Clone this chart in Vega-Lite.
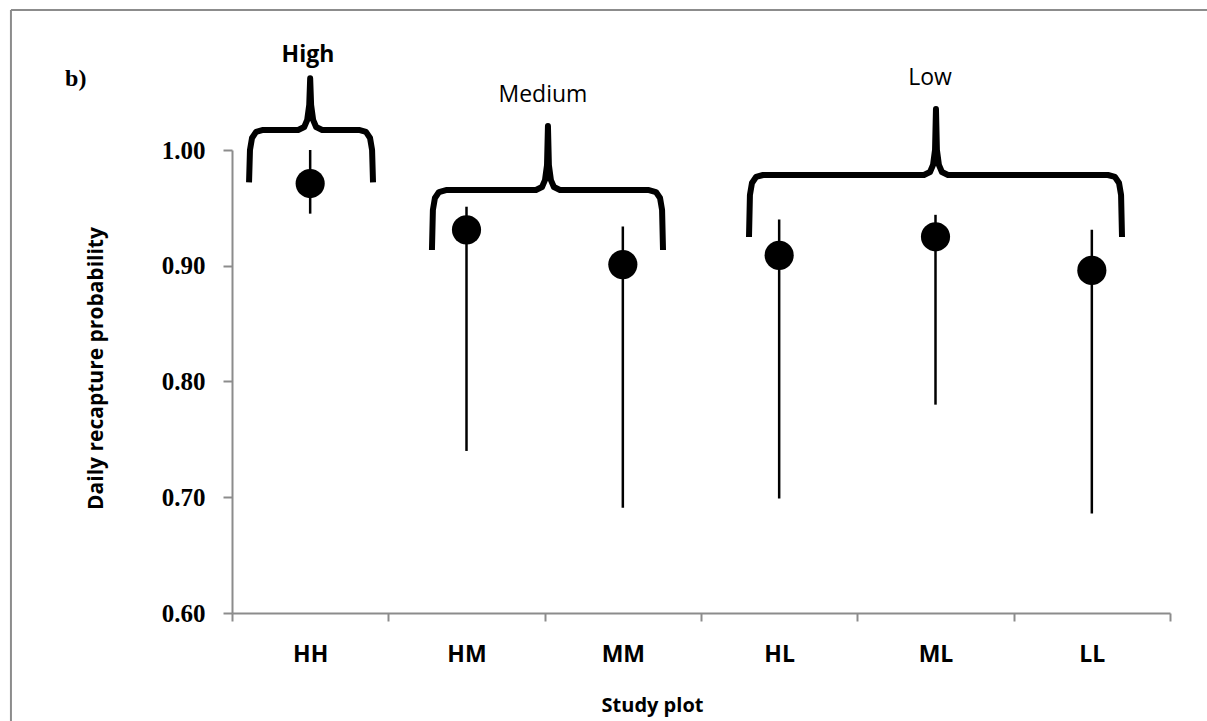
{
  "$schema": "https://vega.github.io/schema/vega-lite/v6.json",
  "width": 938,
  "height": 463,
  "autosize": "none",
  "padding": {"left": 232, "top": 150, "right": 37, "bottom": 108},
  "background": "white",
  "config": {"view": {"stroke": null}},
  "datasets": {
    "plots": [
      {"plot": "HH", "x": 1, "y": 0.971, "lo": 0.945, "hi": 1.0},
      {"plot": "HM", "x": 2, "y": 0.931, "lo": 0.740, "hi": 0.951},
      {"plot": "MM", "x": 3, "y": 0.901, "lo": 0.691, "hi": 0.934},
      {"plot": "HL", "x": 4, "y": 0.909, "lo": 0.699, "hi": 0.940},
      {"plot": "ML", "x": 5, "y": 0.925, "lo": 0.780, "hi": 0.944},
      {"plot": "LL", "x": 6, "y": 0.896, "lo": 0.686, "hi": 0.931}
    ],
    "braces": [
      {"g": "High", "i": 1, "x": 0.609, "y": 0.972},
      {"g": "High", "i": 2, "x": 0.615, "y": 1.000},
      {"g": "High", "i": 3, "x": 0.628, "y": 1.0104},
      {"g": "High", "i": 4, "x": 0.654, "y": 1.0156},
      {"g": "High", "i": 5, "x": 0.699, "y": 1.0173},
      {"g": "High", "i": 6, "x": 0.923, "y": 1.0173},
      {"g": "High", "i": 7, "x": 0.962, "y": 1.0199},
      {"g": "High", "i": 8, "x": 0.981, "y": 1.0259},
      {"g": "High", "i": 9, "x": 0.994, "y": 1.0389},
      {"g": "High", "i": 10, "x": 1.0, "y": 1.062},
      {"g": "High", "i": 11, "x": 1.006, "y": 1.0389},
      {"g": "High", "i": 12, "x": 1.019, "y": 1.0259},
      {"g": "High", "i": 13, "x": 1.038, "y": 1.0199},
      {"g": "High", "i": 14, "x": 1.077, "y": 1.0173},
      {"g": "High", "i": 15, "x": 1.312, "y": 1.0173},
      {"g": "High", "i": 16, "x": 1.357, "y": 1.0156},
      {"g": "High", "i": 17, "x": 1.383, "y": 1.0104},
      {"g": "High", "i": 18, "x": 1.396, "y": 1.000},
      {"g": "High", "i": 19, "x": 1.402, "y": 0.972},
      {"g": "Medium", "i": 1, "x": 1.779, "y": 0.9136},
      {"g": "Medium", "i": 2, "x": 1.785, "y": 0.9481},
      {"g": "Medium", "i": 3, "x": 1.798, "y": 0.9585},
      {"g": "Medium", "i": 4, "x": 1.824, "y": 0.9637},
      {"g": "Medium", "i": 5, "x": 1.869, "y": 0.9654},
      {"g": "Medium", "i": 6, "x": 2.444, "y": 0.9654},
      {"g": "Medium", "i": 7, "x": 2.483, "y": 0.9680},
      {"g": "Medium", "i": 8, "x": 2.502, "y": 0.9740},
      {"g": "Medium", "i": 9, "x": 2.515, "y": 0.9870},
      {"g": "Medium", "i": 10, "x": 2.521, "y": 1.0207},
      {"g": "Medium", "i": 11, "x": 2.527, "y": 0.9870},
      {"g": "Medium", "i": 12, "x": 2.540, "y": 0.9740},
      {"g": "Medium", "i": 13, "x": 2.559, "y": 0.9680},
      {"g": "Medium", "i": 14, "x": 2.598, "y": 0.9654},
      {"g": "Medium", "i": 15, "x": 3.167, "y": 0.9654},
      {"g": "Medium", "i": 16, "x": 3.212, "y": 0.9637},
      {"g": "Medium", "i": 17, "x": 3.238, "y": 0.9585},
      {"g": "Medium", "i": 18, "x": 3.251, "y": 0.9481},
      {"g": "Medium", "i": 19, "x": 3.257, "y": 0.9136},
      {"g": "Low", "i": 1, "x": 3.807, "y": 0.9248},
      {"g": "Low", "i": 2, "x": 3.813, "y": 0.9611},
      {"g": "Low", "i": 3, "x": 3.826, "y": 0.9715},
      {"g": "Low", "i": 4, "x": 3.852, "y": 0.9767},
      {"g": "Low", "i": 5, "x": 3.897, "y": 0.9784},
      {"g": "Low", "i": 6, "x": 4.926, "y": 0.9784},
      {"g": "Low", "i": 7, "x": 4.965, "y": 0.9810},
      {"g": "Low", "i": 8, "x": 4.984, "y": 0.9870},
      {"g": "Low", "i": 9, "x": 4.997, "y": 1.0000},
      {"g": "Low", "i": 10, "x": 5.003, "y": 1.0354},
      {"g": "Low", "i": 11, "x": 5.009, "y": 1.0000},
      {"g": "Low", "i": 12, "x": 5.022, "y": 0.9870},
      {"g": "Low", "i": 13, "x": 5.041, "y": 0.9810},
      {"g": "Low", "i": 14, "x": 5.080, "y": 0.9784},
      {"g": "Low", "i": 15, "x": 6.103, "y": 0.9784},
      {"g": "Low", "i": 16, "x": 6.148, "y": 0.9767},
      {"g": "Low", "i": 17, "x": 6.174, "y": 0.9715},
      {"g": "Low", "i": 18, "x": 6.187, "y": 0.9611},
      {"g": "Low", "i": 19, "x": 6.193, "y": 0.9248}
    ],
    "groups": [
      {"label": "Medium", "x": 2.489, "y": 1.0415},
      {"label": "Low", "x": 4.965, "y": 1.0562}
    ],
    "one": [{}]
  },
  "layer": [
    {
      "data": {"name": "one"},
      "mark": {"type": "rule", "color": "#8c8c8c", "strokeWidth": 2},
      "encoding": {
        "x": {"datum": -0.914, "type": "quantitative"},
        "y": {"datum": 1.121, "type": "quantitative"},
        "y2": {"datum": 0.45}
      }
    },
    {
      "data": {"name": "one"},
      "mark": {"type": "rule", "color": "#8c8c8c", "strokeWidth": 2},
      "encoding": {
        "y": {"datum": 1.121, "type": "quantitative"},
        "x": {"datum": -0.914, "type": "quantitative"},
        "x2": {"datum": 7.2}
      }
    },
    {
      "data": {"name": "plots"},
      "mark": {"type": "rule", "color": "black", "strokeWidth": 2.5},
      "encoding": {
        "x": {"field": "x", "type": "quantitative"},
        "y": {"field": "lo", "type": "quantitative"},
        "y2": {"field": "hi"}
      }
    },
    {
      "data": {"name": "plots"},
      "mark": {"type": "point", "shape": "circle", "filled": true, "color": "black", "opacity": 1, "size": 850},
      "encoding": {
        "x": {
          "field": "x", "type": "quantitative",
          "scale": {"domain": [0.5, 6.5], "nice": false, "zero": false},
          "axis": {
            "title": "Study plot",
            "titleFont": "Open Sans", "titleFontSize": 20, "titleFontWeight": "bold", "titleColor": "black",
            "titleX": 420, "titleY": 98, "titleBaseline": "alphabetic",
            "values": [0.5, 1, 1.5, 2, 2.5, 3, 3.5, 4, 4.5, 5, 5.5, 6, 6.5],
            "labelExpr": "datum.value % 1 == 0 ? ['','HH','HM','MM','HL','ML','LL'][datum.value] : ''",
            "labelFont": "Open Sans", "labelFontSize": 23, "labelFontWeight": "bold", "labelColor": "black",
            "labelPadding": 22, "labelOverlap": false, "labelFlush": false,
            "tickSize": 8, "tickWidth": 2, "tickColor": "#8c8c8c",
            "tickOpacity": {"condition": {"test": "datum.value % 1 == 0", "value": 0}, "value": 1},
            "domainColor": "#8c8c8c", "domainWidth": 2, "grid": false
          }
        },
        "y": {
          "field": "y", "type": "quantitative",
          "scale": {"domain": [0.6, 1.0], "nice": false, "zero": false},
          "axis": {
            "title": "Daily recapture probability",
            "titleFont": "Open Sans", "titleFontSize": 21, "titleFontWeight": "bold", "titleColor": "black",
            "titleX": -130, "titleY": 218, "titleBaseline": "alphabetic", "titleAngle": -90,
            "values": [0.6, 0.7, 0.8, 0.9, 1.0], "format": ".2f",
            "labelFont": "Liberation Serif", "labelFontSize": 25, "labelFontWeight": "bold", "labelColor": "black",
            "labelPadding": 18,
            "tickSize": 9, "tickWidth": 2, "tickColor": "#8c8c8c",
            "domainColor": "#8c8c8c", "domainWidth": 2, "grid": false
          }
        }
      }
    },
    {
      "data": {"name": "braces"},
      "mark": {"type": "line", "color": "black", "strokeWidth": 6, "strokeJoin": "round"},
      "encoding": {
        "x": {"field": "x", "type": "quantitative"},
        "y": {"field": "y", "type": "quantitative"},
        "detail": {"field": "g"},
        "order": {"field": "i"}
      }
    },
    {
      "data": {"name": "one"},
      "mark": {"type": "text", "font": "Open Sans", "fontSize": 23, "fontWeight": "bold", "color": "black", "baseline": "alphabetic", "align": "center"},
      "encoding": {
        "x": {"datum": 0.986, "type": "quantitative"},
        "y": {"datum": 1.076, "type": "quantitative"},
        "text": {"value": "High"}
      }
    },
    {
      "data": {"name": "groups"},
      "mark": {"type": "text", "font": "Open Sans", "fontSize": 23, "color": "black", "baseline": "alphabetic", "align": "center"},
      "encoding": {
        "x": {"field": "x", "type": "quantitative"},
        "y": {"field": "y", "type": "quantitative"},
        "text": {"field": "label"}
      }
    },
    {
      "data": {"name": "one"},
      "mark": {"type": "text", "font": "Liberation Serif", "fontSize": 24, "fontWeight": "bold", "color": "black", "baseline": "alphabetic", "align": "left"},
      "encoding": {
        "x": {"datum": -0.568, "type": "quantitative"},
        "y": {"datum": 1.0553, "type": "quantitative"},
        "text": {"value": "b)"}
      }
    }
  ]
}
